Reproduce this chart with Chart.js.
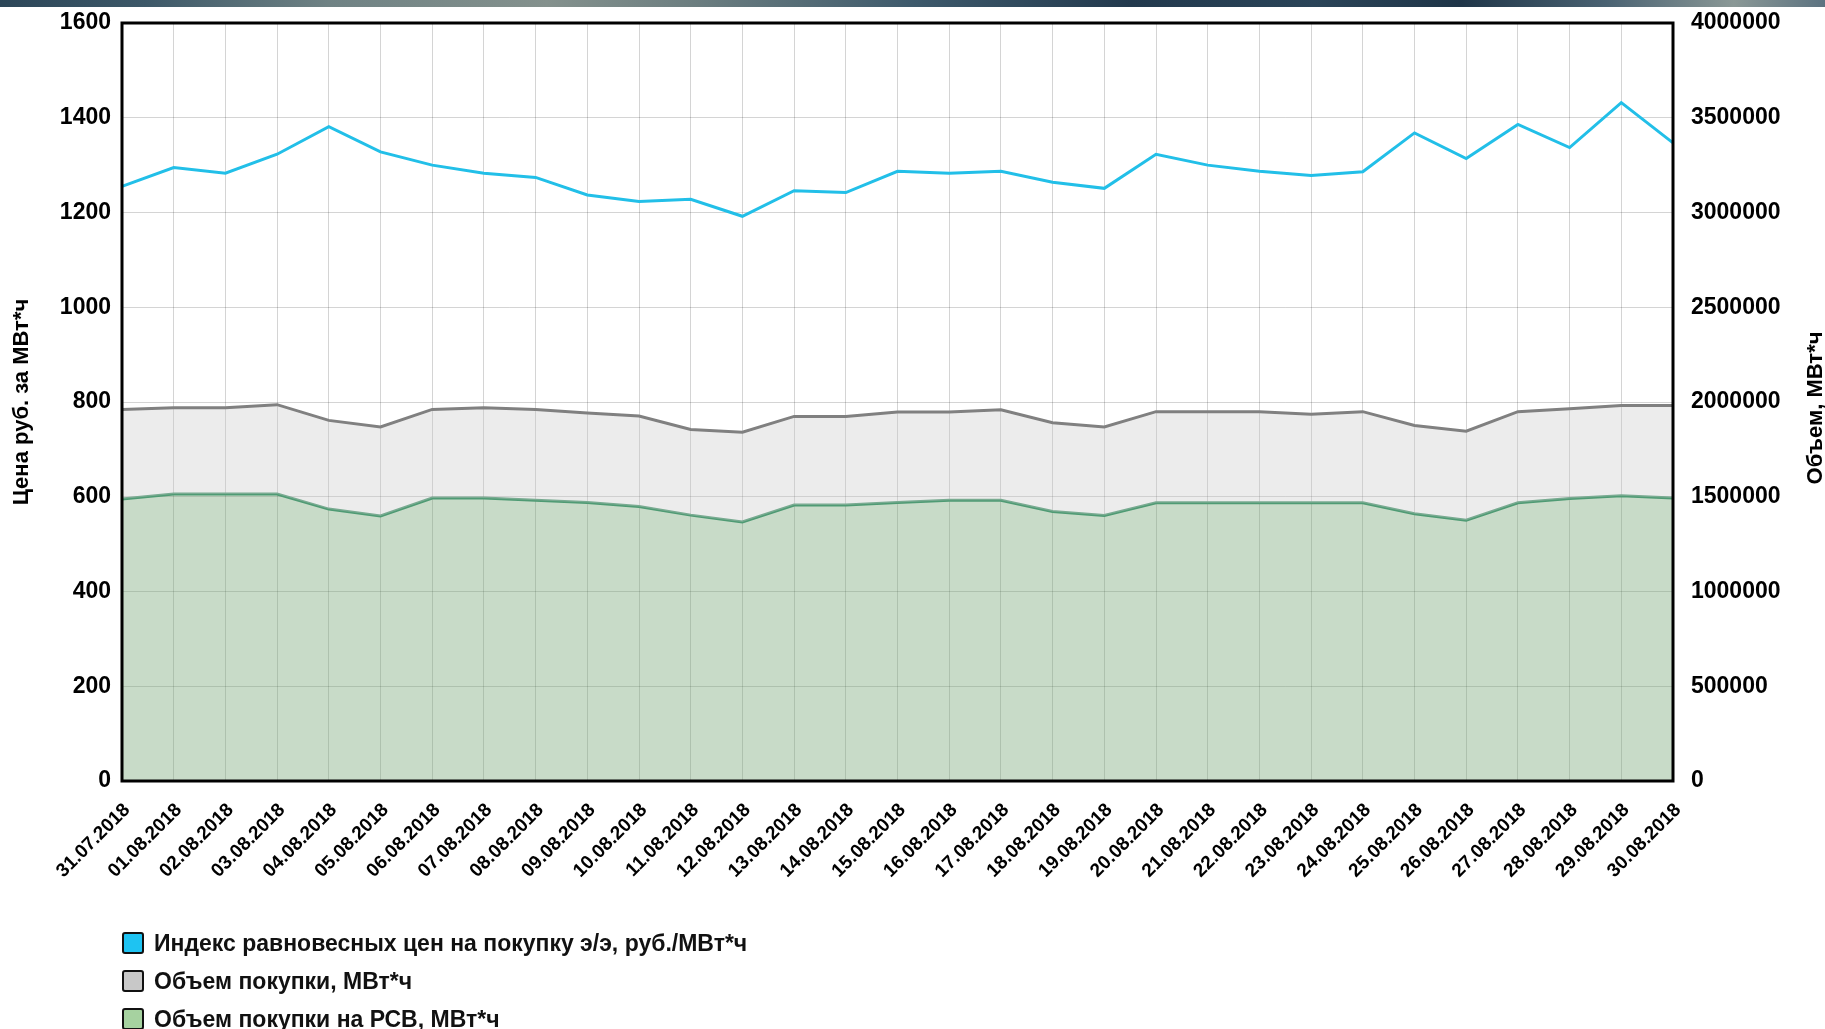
<!DOCTYPE html>
<html lang="ru">
<head>
<meta charset="utf-8">
<title>Индекс равновесных цен и объем покупки</title>
<script src="https://cdn.jsdelivr.net/npm/chart.js@4.4.1/dist/chart.umd.min.js"></script>
<style>
  html, body { margin: 0; padding: 0; background: #fff; overflow: hidden; }
  #wrap { position: relative; width: 1825px; height: 1029px; }
  #banner {
    position: absolute; left: 0; top: 0; width: 1825px; height: 7px;
    background: linear-gradient(90deg, #2c4658 0%, #3d5868 8%, #6f8284 18%, #84918d 30%, #6c7e80 38%, #3e5a6c 50%, #22394d 62%, #2a4458 72%, #1f3548 80%, #4a6272 88%, #8a9896 95%, #5c7280 100%);
  }
  #chart { position: absolute; left: 0; top: 0; }
  #legend {
    position: absolute; left: 122px; top: 924px;
    font: bold 23px "Liberation Sans", Arial, sans-serif; color: #111;
  }
  .item { display: flex; align-items: center; height: 38px; }
  .box { width: 18px; height: 18px; border: 2px solid #111; border-radius: 3px; margin-right: 10px; }
</style>
</head>
<body>
<div id="wrap">
  <div id="banner"></div>
  <canvas id="chart" width="1825" height="1029"></canvas>
  <div id="legend"></div>
</div>
<script>
// --- DATOS ---
const dates = [
  '31.07.2018', '01.08.2018', '02.08.2018', '03.08.2018', '04.08.2018', '05.08.2018',
  '06.08.2018', '07.08.2018', '08.08.2018', '09.08.2018', '10.08.2018', '11.08.2018',
  '12.08.2018', '13.08.2018', '14.08.2018', '15.08.2018', '16.08.2018', '17.08.2018',
  '18.08.2018', '19.08.2018', '20.08.2018', '21.08.2018', '22.08.2018', '23.08.2018',
  '24.08.2018', '25.08.2018', '26.08.2018', '27.08.2018', '28.08.2018', '29.08.2018',
  '30.08.2018'
];

// Индекс равновесных цен, руб./МВт*ч (ось слева)
const priceIndex = [
  1255, 1295, 1283, 1323, 1381, 1328, 1300, 1283, 1274, 1237, 1223, 1228,
  1192, 1246, 1242, 1287, 1283, 1287, 1264, 1251, 1323, 1300, 1287, 1278,
  1286, 1368, 1314, 1386, 1337, 1432, 1347
];

// Объем покупки, МВт*ч (ось справа)
const purchaseVolume = [
  1961000, 1970000, 1970000, 1986000, 1903000, 1868000, 1961000, 1970000,
  1961000, 1942000, 1926000, 1855000, 1841000, 1924000, 1924000, 1947000,
  1947000, 1959000, 1891000, 1868000, 1949000, 1949000, 1948000, 1936000,
  1949000, 1876000, 1846000, 1949000, 1965000, 1982000, 1982000
];

// Объем покупки на РСВ, МВт*ч (ось справа)
const rsvVolume = [
  1488000, 1514000, 1514000, 1514000, 1435000, 1399000, 1493000, 1493000,
  1482000, 1470000, 1449000, 1403000, 1367000, 1456000, 1456000, 1470000,
  1481000, 1481000, 1422000, 1401000, 1468000, 1468000, 1468000, 1468000,
  1468000, 1410000, 1376000, 1468000, 1491000, 1505000, 1493000
];

const seriesNames = [
  'Индекс равновесных цен на покупку э/э, руб./МВт*ч',
  'Объем покупки, МВт*ч',
  'Объем покупки на РСВ, МВт*ч'
];
const legendColors = ['#1ec3f2', '#c8c8c8', '#a6d2a0'];

const priceTicks = { min: 0, max: 1600, step: 200 };
const volumeTicks = { min: 0, max: 4000000, step: 500000 };
const volumeTitle = 'Объем, МВт*ч';

// --- GRÁFICO ---
Chart.defaults.font.family = "'Liberation Sans', Arial, sans-serif";
Chart.defaults.color = '#000';

const gridColor = 'rgba(0, 0, 0, 0.17)';
const plainNumber = (v) => String(v);

// ancho fijo de los ejes Y, sin margen extra arriba/abajo
const fixWidth = (w) => (s) => {
  s.width = w;
  s.paddingTop = 0;
  s.paddingBottom = 0;
};

// marco negro alrededor del área del gráfico + título del eje derecho (girado como el izquierdo)
const framePlugin = {
  id: 'frame',
  afterDatasetsDraw(chart) {
    const { ctx, chartArea: a } = chart;
    ctx.save();
    ctx.strokeStyle = '#000';
    ctx.lineWidth = 3;
    ctx.strokeRect(a.left, a.top, a.right - a.left, a.bottom - a.top);
    ctx.restore();
  },
  afterDraw(chart) {
    const { ctx, chartArea: a } = chart;
    ctx.save();
    ctx.translate(1816, (a.top + a.bottom) / 2 + 6);
    ctx.rotate(-Math.PI / 2);
    ctx.font = "bold 22px 'Liberation Sans', Arial, sans-serif";
    ctx.fillStyle = '#000';
    ctx.textAlign = 'center';
    ctx.textBaseline = 'middle';
    ctx.fillText(volumeTitle, 0, 0);
    ctx.restore();
  }
};

const chart = new Chart(document.getElementById('chart').getContext('2d'), {
  type: 'line',
  data: {
    labels: dates,
    datasets: [
      {
        label: seriesNames[0],
        data: priceIndex,
        yAxisID: 'yPrice',
        borderColor: '#22bfe8',
        borderWidth: 3,
        pointRadius: 0,
        tension: 0,
        fill: false
      },
      {
        label: seriesNames[1],
        data: purchaseVolume,
        yAxisID: 'yVolume',
        borderColor: '#808080',
        backgroundColor: 'rgba(200, 200, 200, 0.35)',
        borderWidth: 3,
        pointRadius: 0,
        tension: 0,
        fill: '+1'
      },
      {
        label: seriesNames[2],
        data: rsvVolume,
        yAxisID: 'yVolume',
        borderColor: '#4f9b74',
        backgroundColor: 'rgba(110, 160, 110, 0.38)',
        borderWidth: 3,
        pointRadius: 0,
        tension: 0,
        fill: 'origin'
      }
    ]
  },
  options: {
    responsive: false,
    animation: false,
    layout: { padding: { top: 23, left: 0, right: 0, bottom: 0 } },
    plugins: {
      legend: { display: false },
      tooltip: { enabled: false }
    },
    scales: {
      x: {
        grid: { color: gridColor, drawTicks: false },
        border: { display: false },
        ticks: {
          autoSkip: false,
          minRotation: 45,
          maxRotation: 45,
          padding: 18,
          labelOffset: 5,
          font: { size: 19, weight: 'bold' }
        },
        afterFit: (s) => { s.height = 248; }
      },
      yPrice: {
        position: 'left',
        min: priceTicks.min,
        max: priceTicks.max,
        grid: { color: gridColor, drawTicks: false },
        border: { display: false },
        ticks: {
          stepSize: priceTicks.step,
          padding: 11,
          font: { size: 23, weight: 'bold' },
          callback: plainNumber
        },
        title: {
          display: true,
          text: 'Цена руб. за МВт*ч',
          font: { size: 22, weight: 'bold' },
          padding: { top: 9, bottom: 0 }
        },
        afterFit: fixWidth(122)
      },
      yVolume: {
        position: 'right',
        min: volumeTicks.min,
        max: volumeTicks.max,
        grid: { display: false, drawTicks: false },
        border: { display: false },
        ticks: {
          stepSize: volumeTicks.step,
          padding: 18,
          font: { size: 23, weight: 'bold' },
          callback: plainNumber
        },
        afterFit: fixWidth(152)
      }
    }
  },
  plugins: [framePlugin]
});

// --- LEYENDA ---
const legendEl = document.getElementById('legend');
seriesNames.forEach((name, i) => {
  const item = document.createElement('div');
  item.className = 'item';
  const box = document.createElement('span');
  box.className = 'box';
  box.style.background = legendColors[i];
  const text = document.createElement('span');
  text.textContent = name;
  item.appendChild(box);
  item.appendChild(text);
  legendEl.appendChild(item);
});
</script>
</body>
</html>
